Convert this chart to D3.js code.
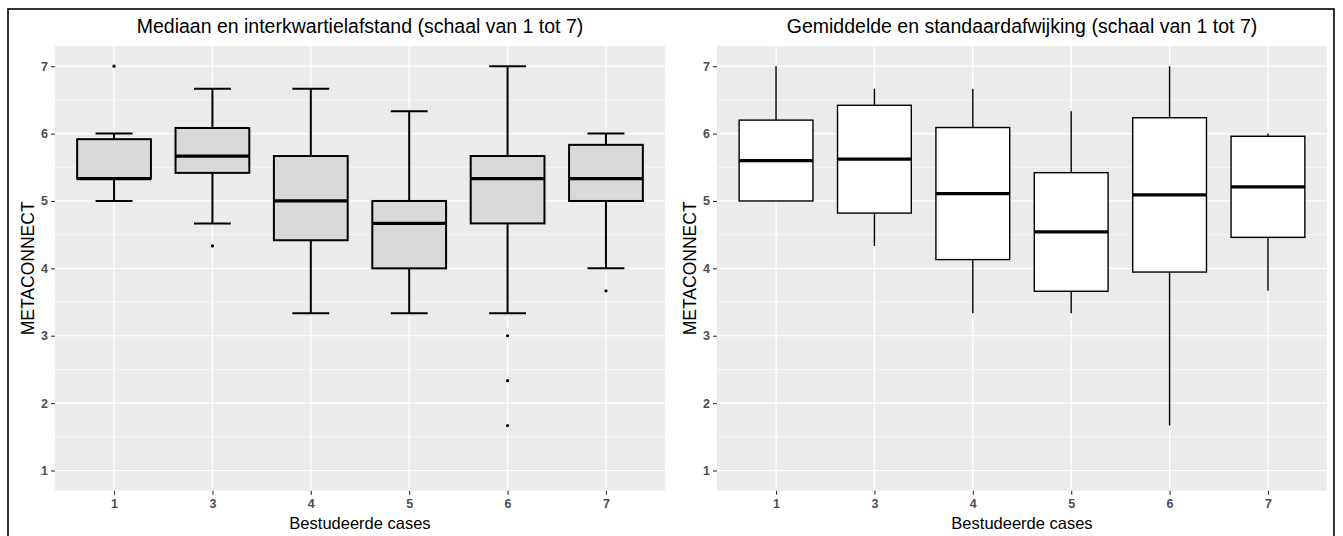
<!DOCTYPE html>
<html>
<head>
<meta charset="utf-8">
<script src="https://cdn.jsdelivr.net/npm/d3@7"></script>
<style>
  html, body { margin: 0; padding: 0; background: #fff; }
  svg { display: block; }
  text { font-family: "Liberation Sans", Arial, Helvetica, sans-serif; }
</style>
</head>
<body>
<svg id="chart" width="1343" height="536"></svg>
<script>
// Cases on the x axis
const cases = ["1", "3", "4", "5", "6", "7"];

// Panel A: median and interquartile range (Tukey boxplot summary)
const whiskerLow  = [5.0,   4.667, 3.333, 3.333, 3.333, 4.0];
const q1          = [5.333, 5.417, 4.417, 4.0,   4.667, 5.0];
const medians     = [5.333, 5.667, 5.0,   4.667, 5.333, 5.333];
const q3          = [5.917, 6.083, 5.667, 5.0,   5.667, 5.833];
const whiskerHigh = [6.0,   6.667, 6.667, 6.333, 7.0,   6.0];
const outliers    = [[7.0], [4.333], [], [], [3.0, 2.333, 1.667], [3.667]];

// Panel B: mean and standard deviation, whiskers to min / max
const means   = [5.6,  5.62,  5.11,  4.54,  5.09,  5.21];
const sds     = [0.6,  0.8,   0.98,  0.88,  1.145, 0.75];
const minVals = [5.0,  4.333, 3.333, 3.333, 1.667, 3.667];
const maxVals = [7.0,  6.667, 6.667, 6.333, 7.0,   6.0];

const yTicks = [1, 2, 3, 4, 5, 6, 7];
const titles = [
  "Mediaan en interkwartielafstand (schaal van 1 tot 7)",
  "Gemiddelde en standaardafwijking (schaal van 1 tot 7)"
];
const xTitle = "Bestudeerde cases";
const yTitle = "METACONNECT";

const svg = d3.select("#chart");

// Outer frame around both panels
svg.append("rect")
  .attr("x", 8).attr("y", 9)
  .attr("width", 1326).attr("height", 540)
  .attr("fill", "none").attr("stroke", "#000").attr("stroke-width", 1.6);

const panelTop = 46, panelBottom = 490.7;
const panels = [
  { left: 55, right: 665, title: titles[0], kind: "iqr" },
  { left: 717, right: 1327, title: titles[1], kind: "sd" }
];

panels.forEach(p => {
  const g = svg.append("g");
  const x = d3.scalePoint().domain(cases).range([p.left, p.right]).padding(0.6);
  const y = d3.scaleLinear().domain([0.7, 7.3]).range([panelBottom, panelTop]);
  const bw = x.step() * 0.75;

  // panel background
  g.append("rect")
    .attr("x", p.left).attr("y", panelTop)
    .attr("width", p.right - p.left).attr("height", panelBottom - panelTop)
    .attr("fill", "#EBEBEB");

  // minor horizontal grid
  const minor = d3.range(1.5, 7, 1);
  g.selectAll(".minor").data(minor).join("line")
    .attr("x1", p.left).attr("x2", p.right)
    .attr("y1", d => y(d)).attr("y2", d => y(d))
    .attr("stroke", "#fff").attr("stroke-width", 0.6);

  // major grid
  g.selectAll(".hmaj").data(yTicks).join("line")
    .attr("x1", p.left).attr("x2", p.right)
    .attr("y1", d => y(d)).attr("y2", d => y(d))
    .attr("stroke", "#fff").attr("stroke-width", 1.2);
  g.selectAll(".vmaj").data(cases).join("line")
    .attr("x1", d => x(d)).attr("x2", d => x(d))
    .attr("y1", panelTop).attr("y2", panelBottom)
    .attr("stroke", "#fff").attr("stroke-width", 1.2);

  // axes
  const yAxis = g.append("g")
    .attr("transform", `translate(${p.left},0)`)
    .call(d3.axisLeft(y).tickValues(yTicks).tickSize(4).tickPadding(3).tickFormat(d3.format("d")));
  const xAxis = g.append("g")
    .attr("transform", `translate(0,${panelBottom})`)
    .call(d3.axisBottom(x).tickSize(4).tickPadding(4));
  [yAxis, xAxis].forEach(a => {
    a.attr("font-size", null).attr("font-family", null);
    a.select(".domain").remove();
    a.selectAll(".tick line").attr("stroke", "#333").attr("stroke-width", 1.1);
    a.selectAll(".tick text")
      .attr("fill", "#4D4D4D")
      .style("font-size", "12.5px")
      .style("font-weight", "bold")
      .style("font-family", '"Liberation Sans", Arial, sans-serif');
  });

  // titles
  const cx = (p.left + p.right) / 2;
  g.append("text").attr("x", cx).attr("y", 33)
    .attr("text-anchor", "middle").style("font-size", "19.5px").attr("fill", "#000")
    .text(p.title);
  g.append("text").attr("x", cx).attr("y", 529)
    .attr("text-anchor", "middle").style("font-size", "16.5px").attr("fill", "#000")
    .text(xTitle);
  g.append("text")
    .attr("transform", `translate(${p.left - 21},${(panelTop + panelBottom) / 2}) rotate(-90)`)
    .attr("text-anchor", "middle").style("font-size", "17.5px").attr("fill", "#000")
    .text(yTitle);

  const marks = g.append("g");
  cases.forEach((c, i) => {
    const cxp = x(c);
    if (p.kind === "iqr") {
      const capW = x.step() * 0.375;
      // whiskers
      marks.append("line").attr("x1", cxp).attr("x2", cxp)
        .attr("y1", y(q3[i])).attr("y2", y(whiskerHigh[i]))
        .attr("stroke", "#000").attr("stroke-width", 2);
      marks.append("line").attr("x1", cxp).attr("x2", cxp)
        .attr("y1", y(q1[i])).attr("y2", y(whiskerLow[i]))
        .attr("stroke", "#000").attr("stroke-width", 2);
      // error-bar caps
      [whiskerHigh[i], whiskerLow[i]].forEach(v => {
        marks.append("line")
          .attr("x1", cxp - capW / 2).attr("x2", cxp + capW / 2)
          .attr("y1", y(v)).attr("y2", y(v))
          .attr("stroke", "#000").attr("stroke-width", 2);
      });
      // box
      marks.append("rect")
        .attr("x", cxp - bw / 2).attr("width", bw)
        .attr("y", y(q3[i])).attr("height", y(q1[i]) - y(q3[i]))
        .attr("fill", "#D9D9D9").attr("stroke", "#000").attr("stroke-width", 2);
      marks.append("line")
        .attr("x1", cxp - bw / 2).attr("x2", cxp + bw / 2)
        .attr("y1", y(medians[i])).attr("y2", y(medians[i]))
        .attr("stroke", "#000").attr("stroke-width", 3.2);
      // outliers
      marks.selectAll(null).data(outliers[i]).join("circle")
        .attr("cx", cxp).attr("cy", d => y(d)).attr("r", 1.6).attr("fill", "#000");
    } else {
      const lo = means[i] - sds[i], hi = means[i] + sds[i];
      marks.append("line").attr("x1", cxp).attr("x2", cxp)
        .attr("y1", y(hi)).attr("y2", y(maxVals[i]))
        .attr("stroke", "#000").attr("stroke-width", 1.4);
      marks.append("line").attr("x1", cxp).attr("x2", cxp)
        .attr("y1", y(lo)).attr("y2", y(minVals[i]))
        .attr("stroke", "#000").attr("stroke-width", 1.4);
      marks.append("rect")
        .attr("x", cxp - bw / 2).attr("width", bw)
        .attr("y", y(hi)).attr("height", y(lo) - y(hi))
        .attr("fill", "#fff").attr("stroke", "#000").attr("stroke-width", 1.4);
      marks.append("line")
        .attr("x1", cxp - bw / 2).attr("x2", cxp + bw / 2)
        .attr("y1", y(means[i])).attr("y2", y(means[i]))
        .attr("stroke", "#000").attr("stroke-width", 3.2);
    }
  });
});
</script>
</body>
</html>
